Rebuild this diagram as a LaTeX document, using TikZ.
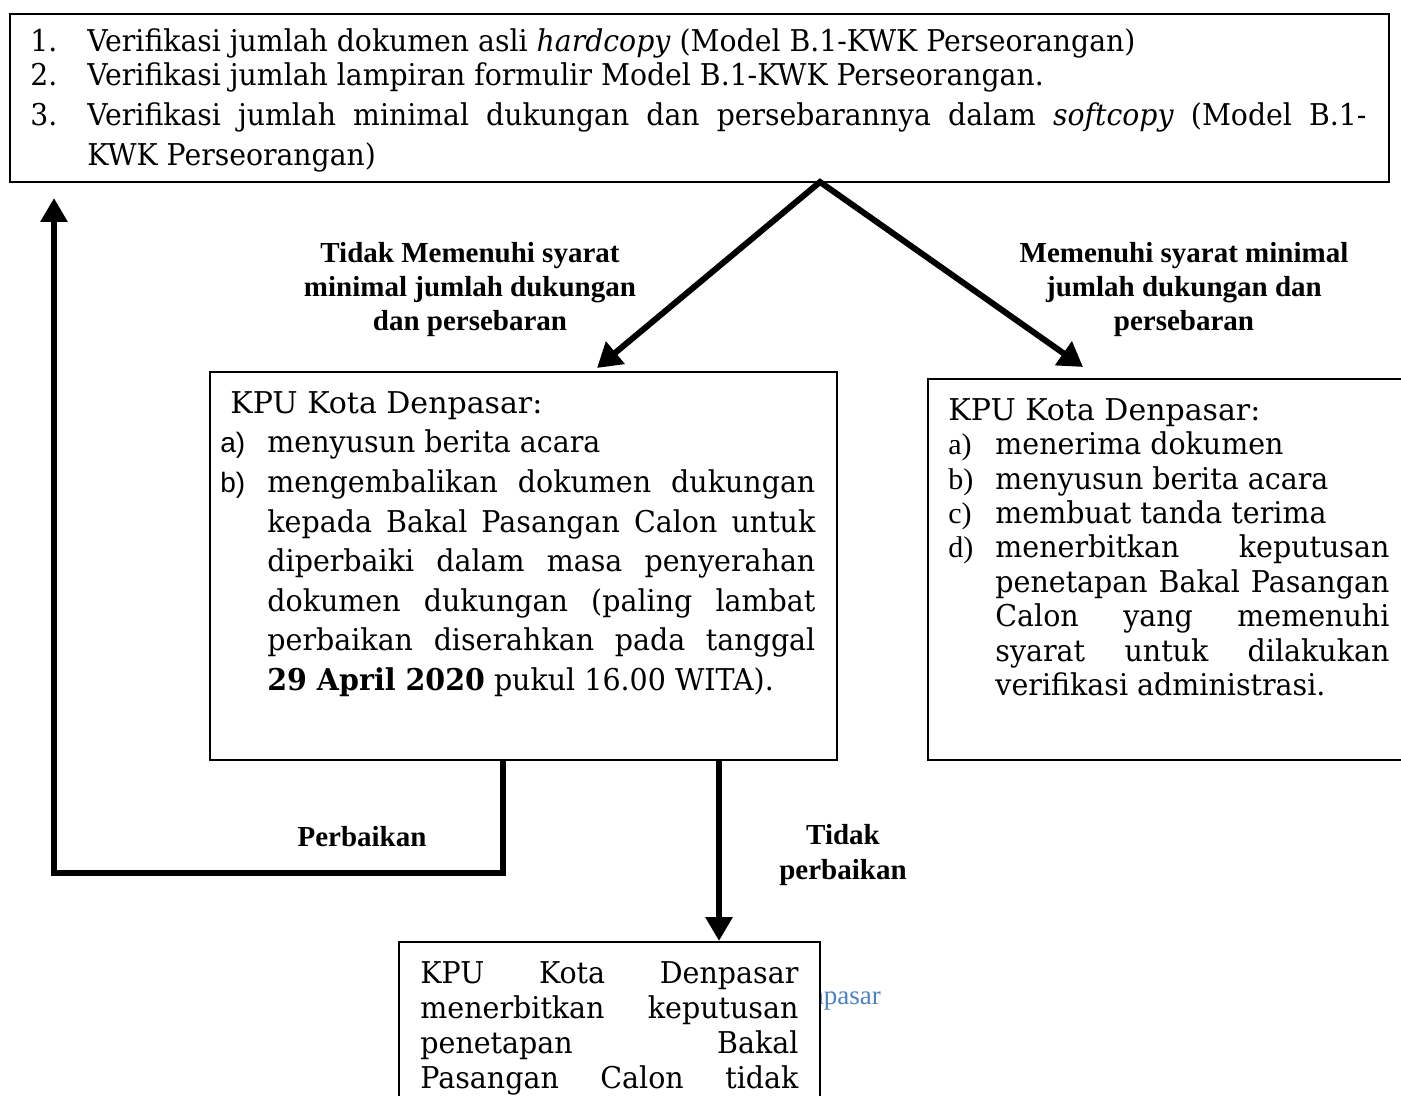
\documentclass[tikz,border=0pt]{standalone}
\usepackage{fontspec}
\setmainfont{DejaVu Serif}[FakeStretch=0.95]
\newfontfamily\sempit[FakeStretch=0.943]{DejaVu Serif}
\newfontfamily\lebar{DejaVu Serif}
\newfontfamily\judul{Liberation Serif}
\newfontfamily\hurufsans{Liberation Sans}
\usetikzlibrary{arrows.meta}

\definecolor{tautan}{RGB}{79,129,189}

% justified line, item labels and indents
\newcommand{\rata}[2]{\makebox[#1][s]{#2}}
\newcommand{\nomor}[1]{\makebox[28.5pt][l]{#1}}
\newcommand{\butirsans}[1]{\makebox[23.5pt][l]{\hurufsans\fontsize{14}{14}\selectfont #1}}
\newcommand{\butir}[1]{\makebox[23.5pt][l]{\judul #1}}
\newcommand{\ind}{\hspace*{23.5pt}}

\tikzset{
  kotak/.style={draw, line width=1pt, inner sep=0pt, anchor=north west},
  isi/.style={inner sep=0pt, anchor=north west, align=left},
  panah/.style={line width=3pt, -{Triangle[width=13pt,length=12pt]}},
  panahdua/.style={line width=3pt, line join=miter, {Triangle[width=14pt,length=12pt]}-{Triangle[width=14pt,length=12pt]}},
  ket/.style={font=\judul\bfseries\fontsize{14.5}{17}\selectfont, align=center}
}

\begin{document}
\begin{tikzpicture}[x=0.5pt,y=-0.5pt]
\useasboundingbox (0,0) rectangle (1401,1096);
\clip (0,0) rectangle (1401,1096);

% top box: the three checks
\node[kotak, minimum width=689.5pt, minimum height=84pt] (verif) at (9,13) {};
\node[isi, font={\sempit\fontsize{15}{17}\selectfont}] (verifteks) at (30,28)
  {\nomor{1.}Verifikasi jumlah dokumen asli \emph{hardcopy} (Model B.1-KWK Perseorangan)\\
   \nomor{2.}Verifikasi jumlah lampiran formulir Model B.1-KWK Perseorangan.\\[3pt]
   \nomor{3.}\rata{639.5pt}{Verifikasi jumlah minimal dukungan dan persebarannya dalam \emph{softcopy} (Model B.1-}\\[3pt]
   \hspace*{28.5pt}KWK Perseorangan)};

% left box: not fulfilled
\node[kotak, minimum width=313.5pt, minimum height=194pt] (tolak) at (209,371) {};
\node[isi, font={\fontsize{15}{19.8}\selectfont}] (tolakteks) at (220,391)
  {\hspace*{5pt}{\lebar KPU Kota Denpasar:}\\
   \butirsans{a)}menyusun berita acara\\
   \butirsans{b)}\rata{274pt}{mengembalikan dokumen dukungan}\\
   \ind\rata{274pt}{kepada Bakal Pasangan Calon untuk}\\
   \ind\rata{274pt}{diperbaiki dalam masa penyerahan}\\
   \ind\rata{274pt}{dokumen dukungan (paling lambat}\\
   \ind\rata{274pt}{perbaikan diserahkan pada tanggal}\\
   \ind\textbf{29 April 2020} pukul 16.00 WITA).};

% right box: fulfilled
\node[kotak, minimum width=245pt, minimum height=190.5pt] (terima) at (927,378) {};
\node[isi, font={\fontsize{15}{17.2}\selectfont}] (terimateks) at (948,398)
  {{\lebar KPU Kota Denpasar:}\\
   \butir{a)}menerima dokumen\\
   \butir{b)}menyusun berita acara\\
   \butir{c)}membuat tanda terima\\
   \butir{d)}\rata{197pt}{menerbitkan keputusan}\\
   \ind\rata{197pt}{penetapan Bakal Pasangan}\\
   \ind\rata{197pt}{Calon yang memenuhi}\\
   \ind\rata{197pt}{syarat untuk dilakukan}\\
   \ind verifikasi administrasi.};

% leftover text behind the bottom box
\node[anchor=west, inner sep=0pt, text=tautan, font=\judul\fontsize{13.5}{16}\selectfont] (sisa) at (810,1001) {npasar};

% bottom box: no correction
\node[kotak, fill=white, minimum width=210.5pt, minimum height=100pt] (tidak) at (398,941) {};
\node[isi, font={\fontsize{15}{17.5}\selectfont}] (tidakteks) at (420,961)
  {\rata{189pt}{KPU Kota Denpasar}\\
   \rata{189pt}{menerbitkan keputusan}\\
   \rata{189pt}{penetapan Bakal}\\
   \rata{189pt}{Pasangan Calon tidak}};

% arrows
\coordinate (pisah) at (820,182);
\coordinate (ujungkiri) at (597,368);
\coordinate (ujungkanan) at (1083,367);
\draw[panahdua] (ujungkiri) -- (pisah) -- (ujungkanan);

\coordinate (awalbaik) at (503,759);
\coordinate (sudutbaik) at (54,873);
\coordinate (ujungbaik) at (54,198);
\draw[panah, line join=miter] (awalbaik) |- (sudutbaik) -- (ujungbaik);

\coordinate (awaltidak) at (719,759);
\draw[panah] (awaltidak) -- (awaltidak |- tidak.north);

% labels
\node[ket] (lbltidak) at (470,290) {Tidak Memenuhi syarat\\minimal jumlah dukungan\\dan persebaran};
\node[ket] (lblya) at (1184,290) {Memenuhi syarat minimal\\jumlah dukungan dan\\persebaran};
\node[ket] (lblbaik) at (362,837) {Perbaikan};
\node[ket] (lbltdkbaik) at (843,855) {Tidak\\[0.5pt]perbaikan};

\end{tikzpicture}
\end{document}
